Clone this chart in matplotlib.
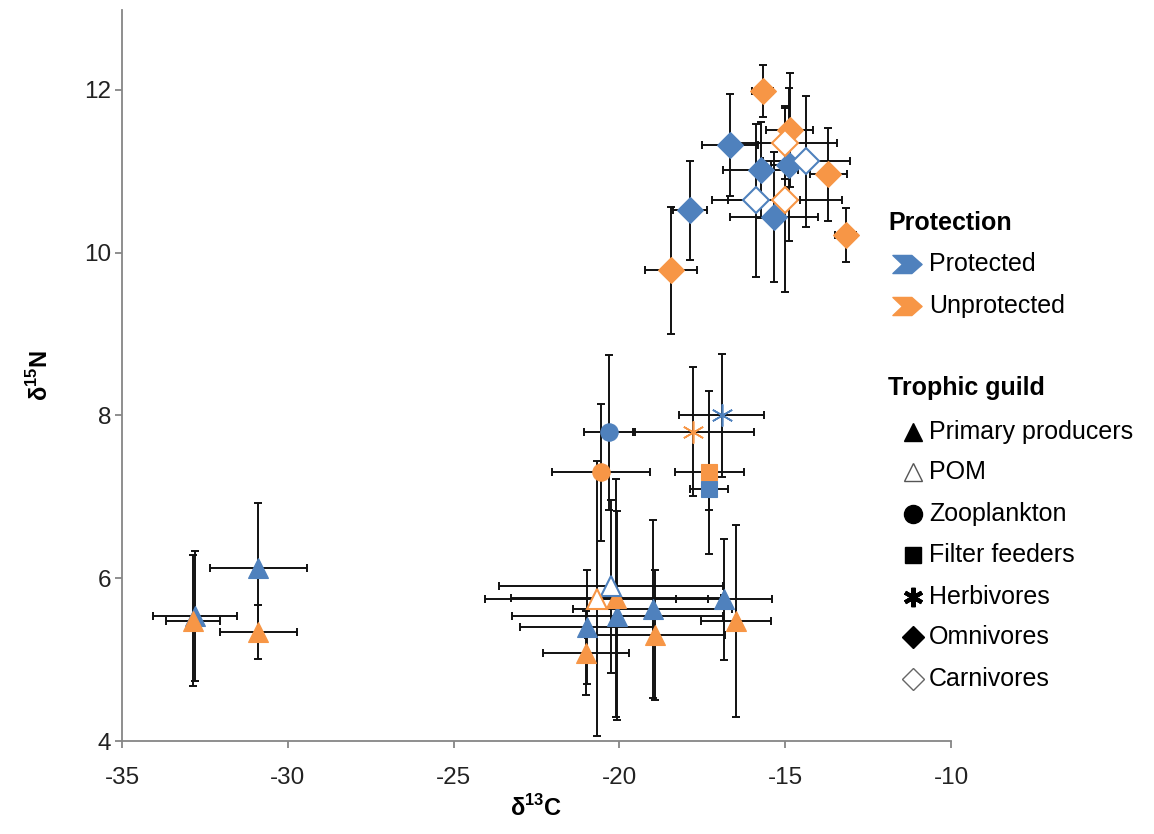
import matplotlib
matplotlib.use('Agg')
import matplotlib.pyplot as plt
from matplotlib.path import Path
from matplotlib.lines import Line2D

plt.rcParams['font.family'] = ['Liberation Sans', 'DejaVu Sans']
plt.rcParams['mathtext.fontset'] = 'custom'
plt.rcParams['mathtext.rm'] = 'Liberation Sans'
plt.rcParams['mathtext.bf'] = 'Liberation Sans:bold'

BLUE = '#4F81BD'
ORANGE = '#F79646'

# ---------------- data ----------------
# Primary producers
prim_prot_x = [-32.80, -30.89, -20.99, -20.06, -19.00, -16.84]
prim_prot_y = [5.54, 6.13, 5.40, 5.54, 5.62, 5.74]
prim_prot_xerr = [1.27, 1.46, 2.00, 3.18, 2.39, 1.44]
prim_prot_yerr = [0.80, 0.79, 0.70, 1.28, 1.09, 0.74]

prim_unprot_x = [-32.85, -30.89, -21.01, -20.11, -18.92, -16.48]
prim_unprot_y = [5.48, 5.34, 5.08, 5.76, 5.30, 5.47]
prim_unprot_xerr = [0.82, 1.16, 1.29, 3.16, 2.11, 1.05]
prim_unprot_yerr = [0.80, 0.33, 0.52, 1.46, 0.80, 1.18]

# POM
pom_prot_x = [-20.26]
pom_prot_y = [5.90]
pom_prot_xerr = [3.38]
pom_prot_yerr = [1.06]

pom_unprot_x = [-20.69]
pom_unprot_y = [5.75]
pom_unprot_xerr = [3.35]
pom_unprot_yerr = [1.69]

# Zooplankton
zoo_prot_x = [-20.30]
zoo_prot_y = [7.79]
zoo_prot_xerr = [0.76]
zoo_prot_yerr = [0.95]

zoo_unprot_x = [-20.56]
zoo_unprot_y = [7.30]
zoo_unprot_xerr = [1.48]
zoo_unprot_yerr = [0.84]

# Filter feeders
filt_prot_x = [-17.29]
filt_prot_y = [7.09]
filt_prot_xerr = [0.58]
filt_prot_yerr = [0.25]

filt_unprot_x = [-17.29]
filt_unprot_y = [7.30]
filt_unprot_xerr = [1.04]
filt_unprot_yerr = [1.00]

# Herbivores
herb_prot_x = [-16.92]
herb_prot_y = [8.00]
herb_prot_xerr = [1.27]
herb_prot_yerr = [0.76]

herb_unprot_x = [-17.77]
herb_unprot_y = [7.80]
herb_unprot_xerr = [1.82]
herb_unprot_yerr = [0.79]

# Omnivores
omni_prot_x = [-16.67, -15.74, -14.89, -15.34, -17.87]
omni_prot_y = [11.32, 11.01, 11.08, 10.44, 10.52]
omni_prot_xerr = [0.85, 1.13, 0.55, 1.33, 0.51]
omni_prot_yerr = [0.63, 0.59, 0.94, 0.80, 0.61]

omni_unprot_x = [-15.68, -14.86, -13.70, -13.18, -18.44]
omni_unprot_y = [11.99, 11.51, 10.96, 10.22, 9.78]
omni_unprot_xerr = [0.32, 0.71, 0.56, 0.33, 0.79]
omni_unprot_yerr = [0.32, 0.70, 0.57, 0.33, 0.78]

# Carnivores
carn_prot_x = [-14.37, -15.88]
carn_prot_y = [11.12, 10.64]
carn_prot_xerr = [1.31, 1.34]
carn_prot_yerr = [0.80, 0.94]

carn_unprot_x = [-15.00, -15.00]
carn_unprot_y = [11.35, 10.64]
carn_unprot_xerr = [1.56, 1.71]
carn_unprot_yerr = [0.45, 1.13]

protection_labels = ['Protected', 'Unprotected']
guild_labels = ['Primary producers', 'POM', 'Zooplankton', 'Filter feeders',
                'Herbivores', 'Omnivores', 'Carnivores']

x_ticks = [-35, -30, -25, -20, -15, -10]
y_ticks = [4, 6, 8, 10, 12]

# ---------------- styles ----------------
ASTER = (6, 2, 0)
series = [
    (prim_prot_x, prim_prot_y, prim_prot_xerr, prim_prot_yerr, '^', 14, BLUE, BLUE),
    (prim_unprot_x, prim_unprot_y, prim_unprot_xerr, prim_unprot_yerr, '^', 14, ORANGE, ORANGE),
    (pom_prot_x, pom_prot_y, pom_prot_xerr, pom_prot_yerr, '^', 14, 'white', BLUE),
    (pom_unprot_x, pom_unprot_y, pom_unprot_xerr, pom_unprot_yerr, '^', 14, 'white', ORANGE),
    (zoo_prot_x, zoo_prot_y, zoo_prot_xerr, zoo_prot_yerr, 'o', 12.5, BLUE, BLUE),
    (zoo_unprot_x, zoo_unprot_y, zoo_unprot_xerr, zoo_unprot_yerr, 'o', 12.5, ORANGE, ORANGE),
    (filt_prot_x, filt_prot_y, filt_prot_xerr, filt_prot_yerr, 's', 11, BLUE, BLUE),
    (filt_unprot_x, filt_unprot_y, filt_unprot_xerr, filt_unprot_yerr, 's', 11, ORANGE, ORANGE),
    (herb_prot_x, herb_prot_y, herb_prot_xerr, herb_prot_yerr, ASTER, 16, BLUE, BLUE),
    (herb_unprot_x, herb_unprot_y, herb_unprot_xerr, herb_unprot_yerr, ASTER, 16, ORANGE, ORANGE),
    (omni_prot_x, omni_prot_y, omni_prot_xerr, omni_prot_yerr, 'D', 13, BLUE, BLUE),
    (omni_unprot_x, omni_unprot_y, omni_unprot_xerr, omni_unprot_yerr, 'D', 13, ORANGE, ORANGE),
    (carn_prot_x, carn_prot_y, carn_prot_xerr, carn_prot_yerr, 'D', 13, 'white', BLUE),
    (carn_unprot_x, carn_unprot_y, carn_unprot_xerr, carn_unprot_yerr, 'D', 13, 'white', ORANGE),
]

W, H = 1154, 834
fig = plt.figure(figsize=(W / 100, H / 100), dpi=100)
ax = fig.add_axes([122 / W, 1 - 741 / H, (951 - 122) / W, (741 - 10) / H])

for i, (x, y, xe, ye, m, ms, fc, ec) in enumerate(series):
    ax.errorbar(x, y, xerr=xe, yerr=ye, fmt='none', ecolor='#111111',
                elinewidth=1.4, capsize=3.2, capthick=1.4, zorder=2 + i * 0.01)
for i, (x, y, xe, ye, m, ms, fc, ec) in enumerate(series):
    mew = 1.5 if fc == 'white' else 0.8
    if m == ASTER:
        mew = 1.2
    ax.plot(x, y, linestyle='none', marker=m, markersize=ms,
            markerfacecolor=fc, markeredgecolor=ec, markeredgewidth=mew,
            zorder=3 + i * 0.01)

ax.set_xlim(-35, -10)
ax.set_ylim(4, 12.98)
ax.set_xticks(x_ticks)
ax.set_yticks(y_ticks)
ax.set_xticklabels([str(v) for v in x_ticks])
ax.set_yticklabels([str(v) for v in y_ticks])
for s in ['top', 'right']:
    ax.spines[s].set_visible(False)
for s in ['left', 'bottom']:
    ax.spines[s].set_color('#868686')
    ax.spines[s].set_linewidth(1.3)
ax.tick_params(axis='both', direction='out', color='#868686', width=1.3,
               length=5, labelsize=17.5, labelcolor='#222222')
ax.tick_params(axis='x', pad=14)
ax.tick_params(axis='y', pad=3)

ax.set_xlabel(r'δ$^{\mathbf{13}}$C', fontsize=17, fontweight='bold', labelpad=4)
ax.set_ylabel(r'δ$^{\mathbf{15}}$N', fontsize=17, fontweight='bold', labelpad=22)

# ---------------- legend ----------------
def fx(px):
    return px / W

def fy(py):
    return 1 - py / H

chev = Path([(-1, 0.62), (0.3, 0.62), (1, 0), (0.3, -0.62), (-1, -0.62), (-0.35, 0), (-1, 0.62)],
            [Path.MOVETO] + [Path.LINETO] * 5 + [Path.CLOSEPOLY])

LFS = 18
fig.text(fx(888), fy(223), 'Protection', fontsize=LFS, fontweight='bold', va='center', ha='left')
for lab, col, py in zip(protection_labels, [BLUE, ORANGE], [264, 306]):
    fig.add_artist(Line2D([fx(907)], [fy(py)], marker=chev, markersize=21,
                          markerfacecolor=col, markeredgecolor=col, linestyle='none',
                          transform=fig.transFigure))
    fig.text(fx(929), fy(py), lab, fontsize=LFS, va='center', ha='left')

fig.text(fx(888), fy(388), 'Trophic guild', fontsize=LFS, fontweight='bold', va='center', ha='left')
leg_markers = [('^', 13.5, 'black', 'black', 1),
               ('^', 13.5, 'white', '#555555', 1),
               ('o', 13, 'black', 'black', 1),
               ('s', 12, 'black', 'black', 1),
               (ASTER, 14, 'black', 'black', 3),
               ('D', 11.5, 'black', 'black', 1),
               ('D', 11.5, 'white', '#666666', 1)]
guild_y = [432, 472, 514, 555, 597, 637, 679]
for lab, (m, ms, fc, ec, mew), py in zip(guild_labels, leg_markers, guild_y):
    fig.add_artist(Line2D([fx(913)], [fy(py)], marker=m, markersize=ms,
                          markerfacecolor=fc, markeredgecolor=ec, markeredgewidth=mew,
                          linestyle='none', transform=fig.transFigure))
    fig.text(fx(929), fy(py), lab, fontsize=LFS, va='center', ha='left')

fig.savefig('out.png', dpi=100)
